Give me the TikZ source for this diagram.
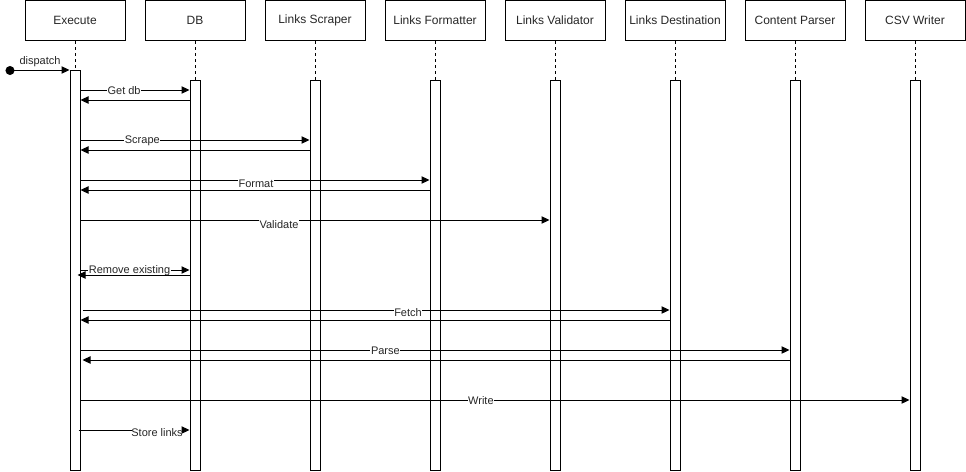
\documentclass[tikz,border=0pt]{standalone}
\usepackage{fontspec}
\setmainfont{Liberation Sans}
\usetikzlibrary{arrows.meta}
\begin{document}
\begin{tikzpicture}[x=0.75pt,y=-0.75pt,
  every node/.style={font=\fontsize{8.25pt}{10pt}\selectfont, text=black!85},
  head/.style={draw, line width=0.75pt, minimum width=75pt, minimum height=30pt, inner sep=0pt, anchor=north, text=black!85, font=\fontsize{9pt}{11pt}\selectfont},
  bar/.style={draw, fill=white, line width=0.75pt, minimum width=7.5pt, inner sep=0pt, anchor=north},
  life/.style={dashed, line width=0.75pt, dash pattern=on 2.25pt off 2.25pt},
  msg/.style={line width=0.75pt, -{Triangle[length=6pt,width=5.5pt]}},
  lbl/.style={fill=white, inner sep=0.5pt, yshift=-0.75pt}
]
\useasboundingbox (0,0) rectangle (966,471);
% headers
\node[head] (hex) at (75,0) {Execute};
\node[head] (hdb) at (195,0) {DB};
\node[head] (hsc) at (315,0) {Links Scraper};
\node[head] (hfo) at (435,0) {Links Formatter};
\node[head] (hva) at (555,0) {Links Validator};
\node[head] (hde) at (675,0) {Links Destination};
\node[head] (hcp) at (795,0) {Content Parser};
\node[head] (hcw) at (915,0) {CSV Writer};
% lifelines
\draw[life] (hex.south) -- (75,70);
\foreach \n/\x in {hdb/195,hsc/315,hfo/435,hva/555,hde/675,hcp/795,hcw/915}
  \draw[life] (\n.south) -- (\x,80);
% activation bars
\node[bar, minimum height=300pt] (ex) at (75,70) {};
\node[bar, minimum height=292.5pt] (db) at (195,80) {};
\node[bar, minimum height=292.5pt] (sc) at (315,80) {};
\node[bar, minimum height=292.5pt] (fo) at (435,80) {};
\node[bar, minimum height=292.5pt] (va) at (555,80) {};
\node[bar, minimum height=292.5pt] (de) at (675,80) {};
\node[bar, minimum height=292.5pt] (cp) at (795,80) {};
\node[bar, minimum height=292.5pt] (cw) at (915,80) {};
% dispatch
\fill (10,70.5) circle (3.4pt);
\coordinate (st) at (10,70);
\draw[msg] (st) -- (ex.north west);
\node at (40,62) {dispatch};
% Get db
\draw[msg] (ex.east |- 0,90) -- node[lbl, pos=0.4] {Get db} (db.west |- 0,90);
\draw[msg] (db.west |- 0,100) -- (ex.east |- 0,100);
% Scrape
\draw[msg] (ex.east |- 0,140) -- node[lbl, pos=0.27] {Scrape} (sc.west |- 0,140);
\draw[msg] (sc.west |- 0,150) -- (ex.east |- 0,150);
% Format
\draw[msg] (ex.east |- 0,180) -- (fo.west |- 0,180);
\node[lbl] at (256,182.5) {Format};
\draw[msg] (fo.west |- 0,190) -- (ex.east |- 0,190);
% Validate
\draw[msg] (ex.east |- 0,220) -- (va.west |- 0,220);
\node[lbl] at (279,223.5) {Validate};
% Remove existing
\draw[msg] (ex.east |- 0,270) -- node[lbl, pos=0.45] {Remove existing} (db.west |- 0,270);
\draw[msg] (db.west |- 0,275) -- ([xshift=-2.25pt]ex.east |- 0,275);
% Fetch
\draw[msg] ([xshift=1.5pt]ex.east |- 0,310) -- (de.west |- 0,310);
\node[lbl] at (408,311.5) {Fetch};
\draw[msg] (de.west |- 0,320) -- (ex.east |- 0,320);
% Parse
\draw[msg] (ex.east |- 0,350) -- node[lbl, pos=0.43] {Parse} (cp.west |- 0,350);
\draw[msg] (cp.west |- 0,360) -- ([xshift=1.5pt]ex.east |- 0,360);
% Write
\draw[msg] (ex.east |- 0,400) -- node[lbl, pos=0.483] {Write} (cw.west |- 0,400);
% Store links
\coordinate (slA) at (132,430);
\coordinate (slB) at (184,430);
\draw[line width=0.75pt] ([xshift=-1.5pt]ex.east |- 0,430) -- (slA);
\draw[msg] (slB) -- (db.west |- 0,430);
\node[inner sep=0pt, anchor=east] (sl) at (183,432.5) {Store links};
\end{tikzpicture}
\end{document}
